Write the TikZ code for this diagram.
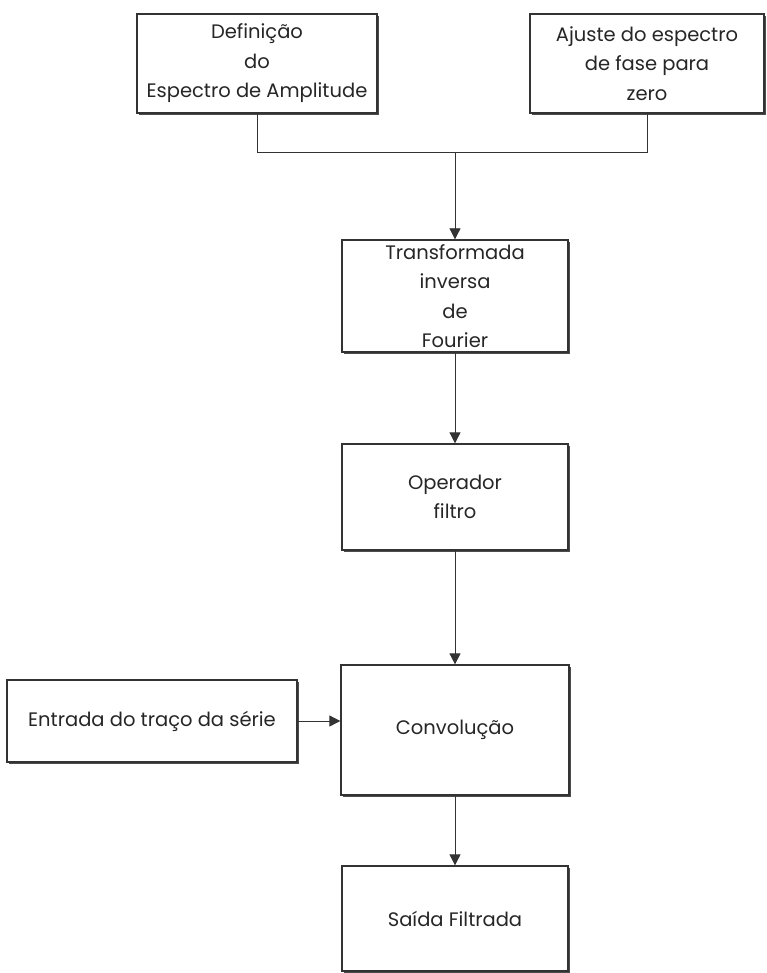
\documentclass[tikz,border=0pt]{standalone}
\usepackage{fontspec}
\setmainfont{Poppins}
\usetikzlibrary{arrows.meta,shadows}
\begin{document}
\begin{tikzpicture}[x=1pt,y=1pt,
  box/.style={draw=black!80, line width=1.3pt, fill=white, align=center,
    text=black!85, font=\fontsize{19.5}{29.5}\selectfont, inner sep=0pt,
    drop shadow={shadow xshift=2.2pt, shadow yshift=-2.2pt, fill=black!70, opacity=1}},
  conn/.style={draw=black!80, line width=0.8pt},
  arr/.style={conn, -{Triangle[width=11pt,length=11pt]}}
]
\useasboundingbox (0,0) rectangle (766,-973);
\node[box, minimum width=240, minimum height=99] (amp) at (257,-63.5)
  {Definição\\do\\Espectro de Amplitude};
\node[box, minimum width=234, minimum height=99] (fase) at (647,-63.5)
  {Ajuste do espectro\\de fase para\\zero};
\node[box, minimum width=226, minimum height=112] (ifft) at (455,-296)
  {Transformada\\inversa\\de\\Fourier};
\node[box, minimum width=226, minimum height=106] (op) at (455,-497)
  {Operador\\filtro};
\node[box, minimum width=228, minimum height=130] (conv) at (455,-730)
  {Convolução};
\node[box, minimum width=290, minimum height=82] (ent) at (152,-721)
  {Entrada do traço da série};
\node[box, minimum width=226, minimum height=105] (out) at (455,-918.5)
  {Saída Filtrada};
\coordinate (j) at (455,-152);
\draw[conn] (amp.south) -- (amp.south |- j) -- (fase.south |- j) -- (fase.south);
\draw[arr] (j) -- (ifft.north);
\draw[arr] (ifft.south) -- (op.north);
\draw[arr] (op.south) -- (conv.north);
\draw[arr] (conv.south) -- (out.north);
\draw[arr] (ent.east) -- (ent.east -| conv.west);
\end{tikzpicture}
\end{document}
